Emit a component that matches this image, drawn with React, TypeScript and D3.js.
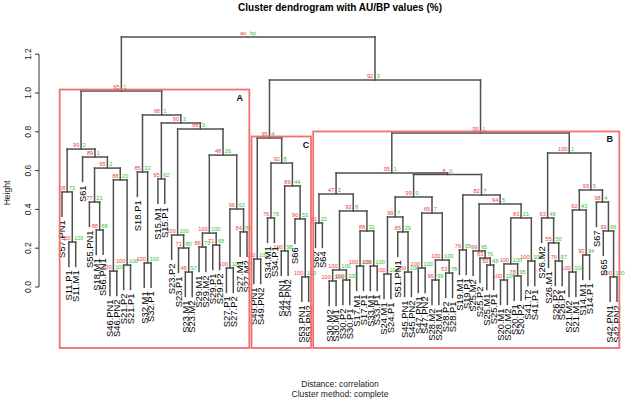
import React from 'react';
import * as d3 from 'd3';

const leafLabels = [
  'S57.PN1', 'S11.P1', 'S11.M1', 'S61', 'S55.PN1', 'S18.M1', 'S56.PN1', 'S46.PN1', 'S46.PN2', 'S21.P2',
  'S21.P1', 'S18.P1', 'S32.M1', 'S32.P1', 'S15.M1', 'S15.P1', 'S23.P2', 'S23.P1', 'S23.M1', 'S23.M2',
  'S29.M1', 'S29.M2', 'S29.P1', 'S29.P2', 'S27.P1', 'S27.P2', 'S27.M1', 'S27.M2', 'S49.PN1', 'S49.PN2',
  'S34.M1', 'S34.P1', 'S44.PN1', 'S44.PN2', 'S66', 'S53.PN1', 'S53.PN2', 'S62', 'S64', 'S30.M2',
  'S30.M1', 'S30.P2', 'S30.P1', 'S17.M1', 'S17.P1', 'S33.M1', 'S33.P1', 'S24.M1', 'S24.P1', 'S51.PN1',
  'S45.PN1', 'S45.PN2', 'S47.PN1', 'S47.PN2', 'S28.M2', 'S28.M1', 'S28.P2', 'S28.P1', 'S19.M1', 'S19.P1',
  'S25.M2', 'S25.P2', 'S25.M1', 'S25.P1', 'S20.M1', 'S20.M2', 'S20.P1', 'S20.P2', 'S41.T2', 'S41.P1',
  'S26.M2', 'S26.M1', 'S26.P2', 'S26.P1', 'S21.M2', 'S21.M1', 'S14.M1', 'S14.P1', 'S67', 'S65',
  'S42.PN1', 'S42.PN2',
];

// hclust-style merge table: negative = leaf (1-based, display order), positive = earlier merge (1-based)
const mergePairs: [number, number][] = [
  [-2, -3], [-1, 1], [-6, -7], [-5, 3], [-8, -9], [-10, -11], [5, 6], [4, 7], [-4, 8], [2, 9],
  [-13, -14], [-12, 11], [-15, -16], [-19, -20], [-18, 14], [-17, 15], [-21, -22], [-23, -24], [17, 18], [-25, -26],
  [-27, -28], [20, 21], [19, 22], [16, 23], [13, 24], [12, 25], [10, 26], [-29, -30], [-31, -32], [-33, -34],
  [-36, -37], [-35, 31], [30, 32], [29, 33], [28, 34], [-38, -39], [-40, -41], [-42, -43], [37, 38], [-44, -45],
  [-46, -47], [40, 41], [39, 42], [36, 43], [-48, -49], [-51, -52], [-50, 46], [45, 47], [-53, -54], [-55, -56],
  [-57, -58], [50, 51], [49, 52], [48, 53], [-59, -60], [-63, -64], [-62, 56], [-61, 57], [-65, -66], [-67, -68],
  [59, 60], [-69, -70], [61, 62], [58, 63], [55, 64], [54, 65], [44, 66], [-73, -74], [-72, 68], [-71, 69],
  [-75, -76], [-77, -78], [71, 72], [-81, -82], [-80, 74], [-79, 75], [73, 76], [70, 77], [67, 78], [35, 79],
  [27, 80],
];

const mergeHeights = [
  0.232, 0.490, 0.294, 0.438, 0.082, 0.113, 0.552, 0.613, 0.670, 0.711,
  0.124, 0.593, 0.557, 0.077, 0.201, 0.268, 0.206, 0.216, 0.278, 0.098,
  0.284, 0.402, 0.680, 0.814, 0.845, 0.887, 1.010, 0.144, 0.356, 0.186,
  0.052, 0.351, 0.521, 0.639, 0.768, 0.330, 0.031, 0.036, 0.088, 0.108,
  0.108, 0.289, 0.392, 0.479, 0.067, 0.077, 0.284, 0.361, 0.098, 0.036,
  0.072, 0.139, 0.381, 0.464, 0.191, 0.113, 0.149, 0.186, 0.036, 0.057,
  0.119, 0.134, 0.356, 0.428, 0.474, 0.580, 0.588, 0.134, 0.227, 0.356,
  0.077, 0.165, 0.397, 0.052, 0.289, 0.438, 0.500, 0.691, 0.794, 1.067,
  1.289,
];

const auValues = [
  100, 68, 88, 77, 100, 100, 88, 95, 89, 99,
  100, 85, 95, 48, 71, 100, 86, 71, 100, 100,
  84, 96, 48, 88, 90, 98, 95, 100, 76, 100,
  100, 90, 89, 92, 95, 81, 100, 100, 100, 100,
  100, 88, 93, 47, 100, 100, 85, 99, 100, 96,
  53, 100, 65, 99, 76, 50, 83, 99, 100, 78,
  100, 100, 83, 94, 82, 8, 95, 76, 55, 63,
  100, 90, 92, 100, 99, 98, 99, 100, 95, 92,
];

const bpValues = [
  100, 73, 68, 21, 100, 100, 20, 2, 1, 2,
  100, 32, 62, 97, 80, 100, 73, 68, 100, 100,
  85, 62, 26, 3, 3, 1, 1, 100, 76, 98,
  100, 53, 44, 8, 4, 22, 100, 100, 100, 100,
  100, 31, 8, 2, 100, 100, 29, 7, 100, 99,
  78, 100, 7, 0, 95, 48, 76, 95, 100, 95,
  100, 100, 21, 5, 7, 0, 1, 97, 50, 49,
  100, 94, 43, 100, 66, 4, 5, 1, 1, 3,
];

const rootLabels = ['au', 'bp'];
const clusterMerges = [27, 35, 79];
const clusterNames = ['A', 'C', 'B'];
const yTicks = [0, 0.2, 0.4, 0.6, 0.8, 1.0, 1.2];

const W = 628;
const H = 401;

export default function App() {
  const n = leafLabels.length;
  const x = d3.scaleLinear().domain([1, n]).range([62, 617]);
  const y = d3.scaleLinear().domain([0, 1.2]).range([287, 54.2]);
  const hang = 0.1 * (d3.max(mergeHeights)! - d3.min(mergeHeights)!);
  const plotBottom = 348;

  const nx: number[] = [];
  const members: number[][] = [];
  mergePairs.forEach(([a, b], i) => {
    const cx = (c: number) => (c < 0 ? x(-c) : nx[c - 1]);
    const cm = (c: number) => (c < 0 ? [-c] : members[c - 1]);
    nx[i] = (cx(a) + cx(b)) / 2;
    members[i] = [...cm(a), ...cm(b)];
  });

  const lineColor = '#4e4e4e';
  const segs: JSX.Element[] = [];
  const leafText: JSX.Element[] = [];
  const pvText: JSX.Element[] = [];

  mergePairs.forEach(([a, b], i) => {
    const h = mergeHeights[i];
    const yy = y(h);
    const childX = (c: number) => (c < 0 ? x(-c) : nx[c - 1]);
    const xa = childX(a);
    const xb = childX(b);
    segs.push(<line key={`h${i}`} x1={xa} x2={xb} y1={yy} y2={yy} />);
    [a, b].forEach((c, k) => {
      const cxv = childX(c);
      let y2: number;
      if (c < 0) {
        y2 = y(h - hang);
        leafText.push(
          <text
            key={`l${-c}`}
            transform={`translate(${cxv},${y2 + 4}) rotate(-90)`}
            textAnchor="end"
            dy="0.35em"
          >
            {leafLabels[-c - 1]}
          </text>
        );
      } else {
        y2 = y(mergeHeights[c - 1]);
      }
      segs.push(<line key={`v${i}_${k}`} x1={cxv} x2={cxv} y1={yy} y2={y2} />);
    });
    const isRoot = i === mergePairs.length - 1;
    const au = isRoot ? rootLabels[0] : String(auValues[i]);
    const bp = isRoot ? rootLabels[1] : String(bpValues[i]);
    pvText.push(
      <text key={`au${i}`} x={nx[i] - 1.8} y={yy - 1.6} textAnchor="end" fill="#ef3a3a">
        {au}
      </text>
    );
    pvText.push(
      <text key={`bp${i}`} x={nx[i] + 1.8} y={yy - 1.6} textAnchor="start" fill="#2fbf2f">
        {bp}
      </text>
    );
  });

  const step = x(2) - x(1);
  const rects = clusterMerges.map((m, k) => {
    const mem = members[m - 1];
    const xl = x(d3.min(mem)!) - step * 0.34;
    const xr = x(d3.max(mem)!) + step * 0.34;
    const yt = y(mergeHeights[m - 1]) - 1.5;
    const name = clusterNames[k];
    const dx = name === 'C' ? 5 : 9.5;
    return (
      <g key={`r${k}`}>
        <rect x={xl} y={yt} width={xr - xl} height={plotBottom - yt} fill="none" stroke="#f07070" strokeWidth={1.8} />
        <text x={xr - dx} y={yt + 11} textAnchor="middle" fontWeight="bold" fontSize={9} fill="#111">
          {name}
        </text>
      </g>
    );
  });

  return (
    <svg
      width={W}
      height={H}
      style={{ position: 'absolute', left: 0, top: 0, background: '#fff' }}
      fontFamily="Liberation Sans, Arial, sans-serif"
    >
      <rect x={0} y={0} width={W} height={H} fill="#fff" />
      <text x={340} y={11} textAnchor="middle" fontWeight="bold" fontSize={10}>
        Cluster dendrogram with AU/BP values (%)
      </text>
      <g stroke={lineColor} strokeWidth={1.5} strokeLinecap="square">{segs}</g>
      <g fontSize={5.6}>{pvText}</g>
      <g fontSize={9.4} fill="#000">{leafText}</g>
      {rects}
      <g>
        <line x1={39} x2={39} y1={y(0)} y2={y(1.2)} stroke="#333" strokeWidth={1} />
        {yTicks.map((t) => (
          <g key={t}>
            <line x1={35} x2={39} y1={y(t)} y2={y(t)} stroke="#333" strokeWidth={1} />
            <text
              transform={`translate(31,${y(t)}) rotate(-90)`}
              textAnchor="middle"
              fontSize={8.5}
              fill="#222"
            >
              {d3.format('.1f')(t)}
            </text>
          </g>
        ))}
        <text transform={`translate(10,193) rotate(-90)`} textAnchor="middle" fontSize={8.5} fill="#222">
          Height
        </text>
      </g>
      <text x={340} y={387} textAnchor="middle" fontSize={8.5} fill="#222">
        {'Distance:  correlation'}
      </text>
      <text x={340} y={396.5} textAnchor="middle" fontSize={8.5} fill="#222">
        Cluster method: complete
      </text>
    </svg>
  );
}
